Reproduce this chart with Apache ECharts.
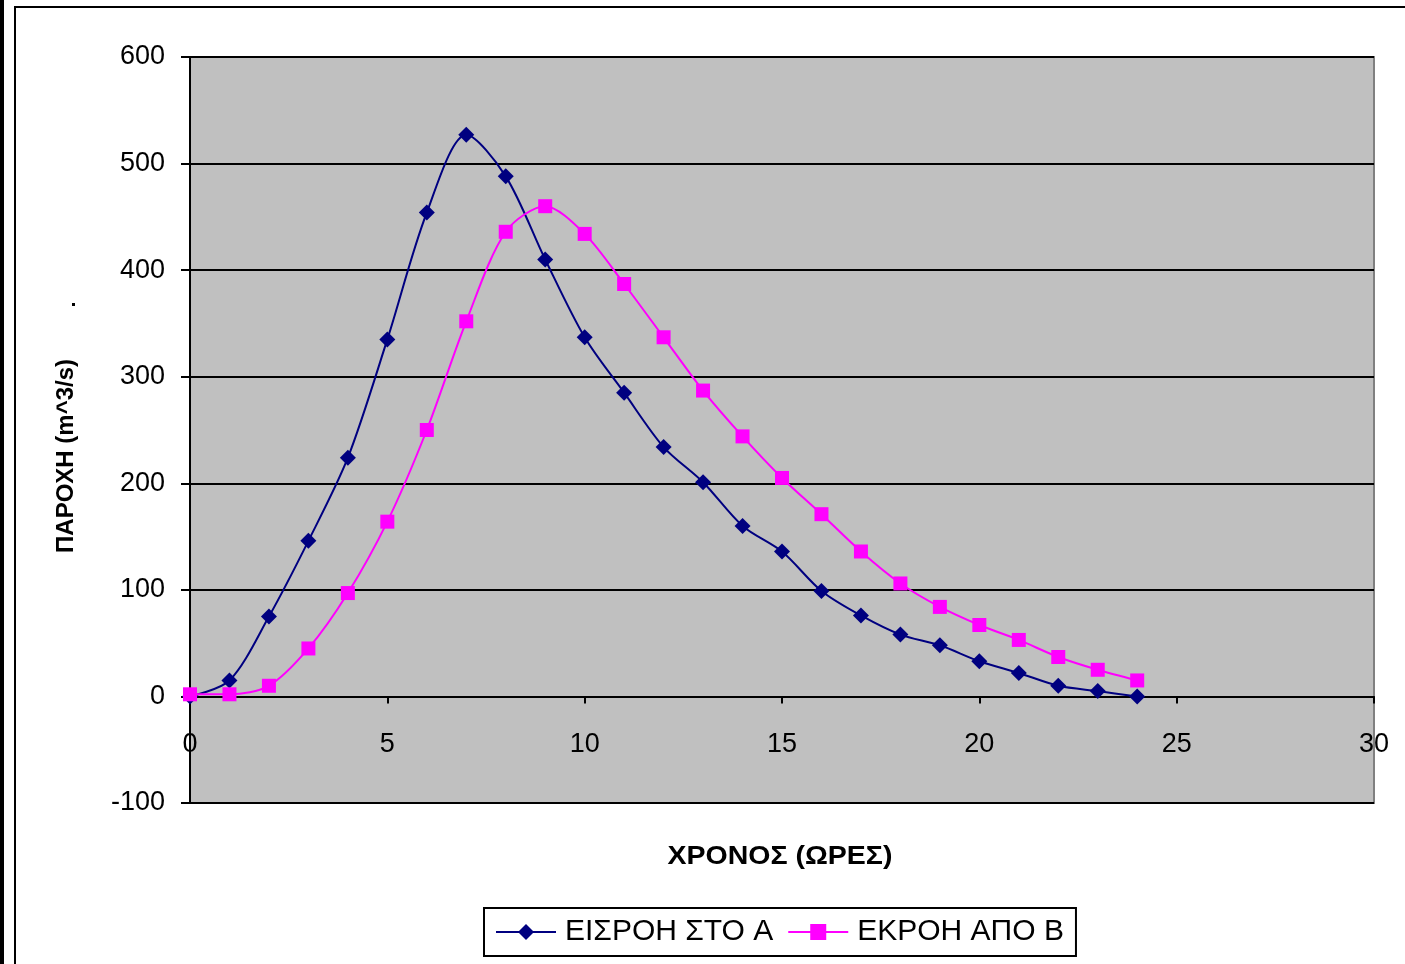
<!DOCTYPE html>
<html>
<head>
<meta charset="utf-8">
<script src="https://cdn.jsdelivr.net/npm/echarts@6/dist/echarts.min.js"></script>
<style>
html,body{margin:0;padding:0;background:#fff;}
#c{width:1405px;height:964px;}
</style>
</head>
<body>
<div id="c"></div>
<script>
// ---- data ----
const hours = [0,1,2,3,4,5,6,7,8,9,10,11,12,13,14,15,16,17,18,19,20,21,22,23,24];
const inflowA = [0,15,75,146,224,335,454,527,488,410,337,285,234,201,160,136,99,76,58,48,33,22,10,5,0];
const outflowB = [2,2,10,45,97,164,250,352,436,460,434,387,337,287,244,205,171,136,106,84,67,53,37,25,15];
const seriesNames = ['ΕΙΣΡΟΗ ΣΤΟ Α','ΕΚΡΟΗ ΑΠΟ Β'];
const xTitle = 'ΧΡΟΝΟΣ (ΩΡΕΣ)';
const yTitle = 'ΠΑΡΟΧΗ (m^3/s)';

const pairs = (xs, ys) => xs.map((x, i) => [x, ys[i]]);

const chart = echarts.init(document.getElementById('c'), null, {renderer: 'canvas'});
const labelFont = 'Liberation Sans';
chart.setOption({
  animation: false,
  backgroundColor: '#ffffff',
  grid: {
    left: 190, right: 31, top: 57, bottom: 161,
    show: true, backgroundColor: '#C0C0C0', borderColor: '#808080', borderWidth: 2
  },
  xAxis: {
    type: 'value', min: 0, max: 30, interval: 5,
    axisLine: {show: true, onZero: true, lineStyle: {color: '#000', width: 2}},
    axisTick: {show: true, length: 7, lineStyle: {color: '#000', width: 2}},
    axisLabel: {color: '#000', fontSize: 27, fontFamily: labelFont, margin: -72},
    splitLine: {show: false}
  },
  yAxis: {
    type: 'value', min: -100, max: 600, interval: 100,
    axisLine: {show: true, onZero: false, lineStyle: {color: '#000', width: 2}},
    axisTick: {show: true, length: 9, lineStyle: {color: '#000', width: 2}},
    axisLabel: {color: '#000', fontSize: 27, fontFamily: labelFont, margin: 25},
    splitLine: {show: true, lineStyle: {color: '#000', width: 2}}
  },
  legend: {
    left: 484, top: 908,
    padding: [9, 12, 9, 11],
    itemWidth: 60, itemHeight: 20, itemGap: 14,
    borderColor: '#000', borderWidth: 2, backgroundColor: '#fff', borderRadius: 0,
    textStyle: {color: '#000', fontSize: 30, fontFamily: labelFont, padding: [8, 0, 0, 4]},
    data: seriesNames
  },
  graphic: [
    {type: 'rect', shape: {x: 0, y: 0, width: 4, height: 964}, style: {fill: '#000'}, silent: true},
    {type: 'rect', shape: {x: 15, y: 7, width: 1500, height: 1100}, style: {fill: 'none', stroke: '#000', lineWidth: 2}, silent: true},
    {type: 'text', x: 780, y: 857, scaleX: 1.14,
      style: {text: xTitle, fill: '#000', font: 'bold 25px "Liberation Sans"', textAlign: 'center', textVerticalAlign: 'middle'}},
    {type: 'text', x: 66, y: 456, rotation: Math.PI / 2,
      style: {text: yTitle, fill: '#000', font: 'bold 24px "Liberation Sans"', textAlign: 'center', textVerticalAlign: 'middle'}},
    {type: 'rect', shape: {x: 72, y: 303, width: 3, height: 3}, style: {fill: '#000'}, silent: true}
  ],
  series: [
    {
      name: seriesNames[0], type: 'line', smooth: 0.3,
      data: pairs(hours, inflowA),
      symbol: 'diamond', symbolSize: 16,
      lineStyle: {color: '#000080', width: 2},
      itemStyle: {color: '#000080'}
    },
    {
      name: seriesNames[1], type: 'line', smooth: 0.3,
      data: pairs(hours, outflowB),
      symbol: 'rect', symbolSize: 14,
      lineStyle: {color: '#FF00FF', width: 2},
      itemStyle: {color: '#FF00FF'}
    }
  ]
});
</script>
</body>
</html>
